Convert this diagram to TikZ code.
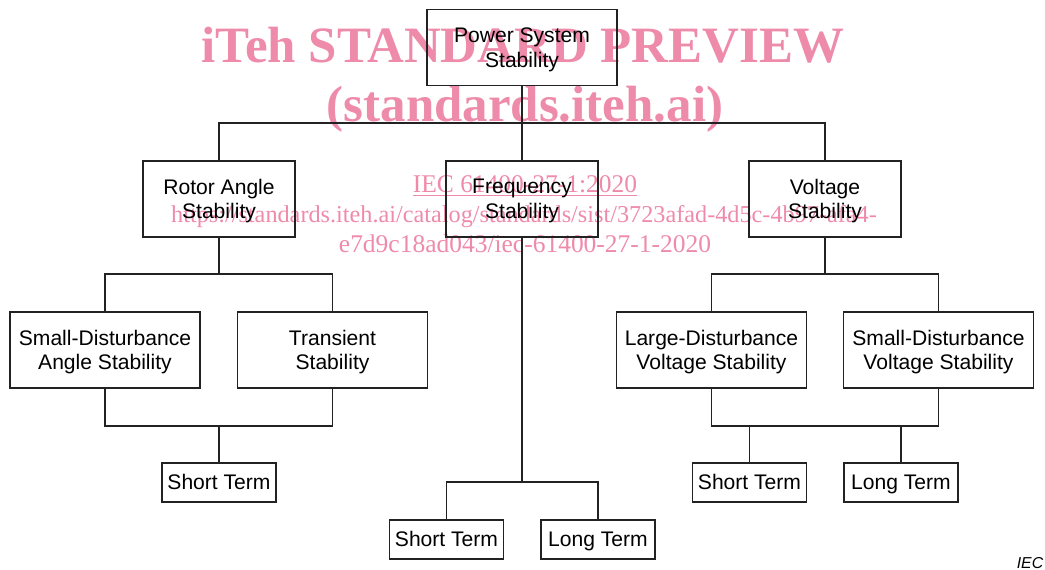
\documentclass[tikz,border=0pt]{standalone}
\usepackage{fontspec}
\setmainfont{Liberation Sans}
\newfontfamily\wmfont{Liberation Serif}
\usepackage{tikz}
\usetikzlibrary{calc}
\definecolor{wmpink}{HTML}{EE8AAA}
\definecolor{ink}{HTML}{222222}

\begin{document}
\begin{tikzpicture}[x=0.02cm,y=-0.02cm,
    box/.style={draw=ink,line width=0.85pt,inner sep=0pt,align=center,
      font=\fontsize{12}{14}\selectfont},
    bigbox/.style={box,minimum width=3.8cm,minimum height=1.52cm,text depth=-1pt},
    midbox/.style={box,minimum width=3.04cm,minimum height=1.52cm,text depth=-1pt},
    termbox/.style={box,minimum width=2.28cm,minimum height=0.78cm,text height=9.7pt,text depth=1.5pt},
    wire/.style={draw=ink,line width=0.85pt},
    wmark/.style={text=wmpink,anchor=base,inner sep=0pt}]
        \useasboundingbox (0,0) rectangle (1045,570);
        % watermark
        \node[wmark,font=\wmfont\bfseries\fontsize{29}{30}\selectfont] (wmtitle) at (523,63) {iTeh STANDARD PREVIEW};
        \node[wmark,font=\wmfont\bfseries\fontsize{29}{30}\selectfont] (wmsite) at (525,122) {(standards.iteh.ai)};
        \node[wmark,font=\wmfont\fontsize{14.5}{16}\selectfont] (wmcode) at (525,193) {\underline{IEC 61400-27-1:2020}};
        \node[wmark,font=\wmfont\fontsize{13.8}{16}\selectfont] (wmurl) at (524,223) {https://standards.iteh.ai/catalog/standards/sist/3723afad-4d5c-4b97-afa4-};
        \node[wmark,font=\wmfont\fontsize{14.5}{16}\selectfont] (wmurltail) at (525,253) {e7d9c18ad043/iec-61400-27-1-2020};
        % boxes
        \node[midbox,minimum width=3.8cm] (pss) at (522,47.5) {Power System\\Stability};
        \node[midbox] (ras) at (219,199) {Rotor Angle\\Stability};
        \node[midbox] (fs) at (522,199) {Frequency\\Stability};
        \node[midbox] (vs) at (825,199) {Voltage\\Stability};
        \node[bigbox] (sdas) at (105,350) {Small-Disturbance\\Angle Stability};
        \node[bigbox] (ts) at (332.5,350) {Transient\\Stability};
        \node[bigbox] (ldvs) at (711.5,350) {Large-Disturbance\\Voltage Stability};
        \node[bigbox] (sdvs) at (938.5,350) {Small-Disturbance\\Voltage Stability};
        \node[termbox] (rast) at (219,482.5) {Short Term};
        \node[termbox] (fst) at (446.5,539.5) {Short Term};
        \node[termbox] (flt) at (598,539.5) {Long Term};
        \node[termbox] (vst) at (749.5,482.5) {Short Term};
        \node[termbox] (vlt) at (901,482.5) {Long Term};
        % connectors
        \coordinate (topbus) at (522,123);
        \draw[wire] (pss) -- (topbus);
        \draw[wire] (ras.north) |- (topbus) -| (vs.north);
        \draw[wire] (topbus) -- (fs.north);
        \coordinate (rabus) at (219,274);
        \draw[wire] (ras) -- (rabus);
        \draw[wire] (sdas.north) |- (rabus) -| (ts.north);
        \coordinate (rajoin) at (219,426);
        \draw[wire] (sdas.south) |- (rajoin) -| (ts.south);
        \draw[wire] (rajoin) -- (rast.north);
        \coordinate (fbus) at (522,482);
        \draw[wire] (fs) -- (fbus);
        \draw[wire] (fst.north) |- (fbus) -| (flt.north);
        \coordinate (vbus) at (825,274);
        \draw[wire] (vs) -- (vbus);
        \draw[wire] (ldvs.north) |- (vbus) -| (sdvs.north);
        \coordinate (vjoin) at (825,426);
        \draw[wire] (ldvs.south) |- (vjoin) -| (sdvs.south);
        \draw[wire] (vst.north) -- (vst.north |- vjoin);
        \draw[wire] (vlt.north) -- (vlt.north |- vjoin);
        \node[font=\itshape\fontsize{9}{10}\selectfont,inner sep=0pt] (iec) at (1030,563) {IEC};
      \end{tikzpicture}
\end{document}
